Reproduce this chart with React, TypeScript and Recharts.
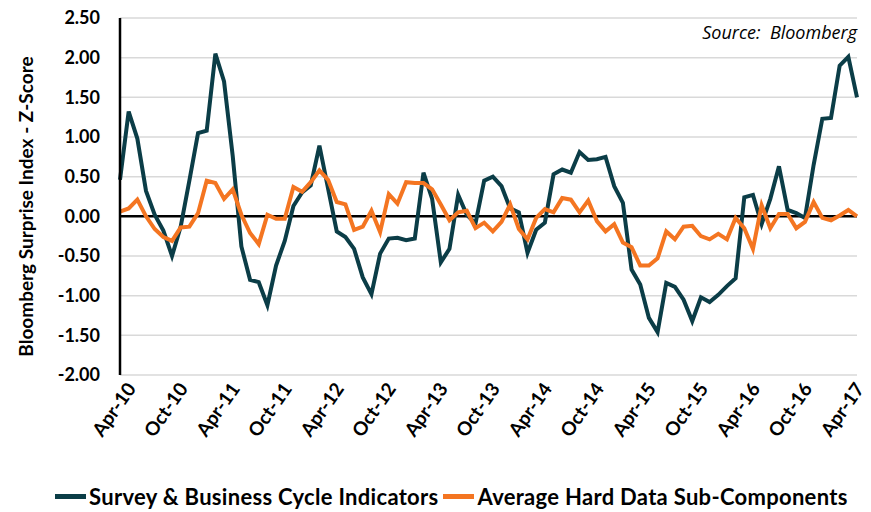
import React from 'react';
import { LineChart, Line, XAxis, YAxis, CartesianGrid, ReferenceLine, Label } from 'recharts';

const MONTH_NAMES = ['Jan', 'Feb', 'Mar', 'Apr', 'May', 'Jun', 'Jul', 'Aug', 'Sep', 'Oct', 'Nov', 'Dec'];

// monthly observations, Mar-10 .. Apr-17
const months: string[] = [];
for (let i = 0; i < 86; i++) {
  const m = (2 + i) % 12;
  const y = 10 + Math.floor((2 + i) / 12);
  months.push(`${MONTH_NAMES[m]}-${y}`);
}

const tickLabels = [
  'Apr-10', 'Oct-10', 'Apr-11', 'Oct-11', 'Apr-12', 'Oct-12', 'Apr-13', 'Oct-13',
  'Apr-14', 'Oct-14', 'Apr-15', 'Oct-15', 'Apr-16', 'Oct-16', 'Apr-17',
];

const yTicks = [-2, -1.5, -1, -0.5, 0, 0.5, 1, 1.5, 2, 2.5];

const surveyCycle = [
  0.46, 1.32, 0.98, 0.32, 0.02, -0.18, -0.5, -0.13, 0.45, 1.05,
  1.08, 2.05, 1.7, 0.76, -0.38, -0.8, -0.83, -1.12, -0.62, -0.31,
  0.13, 0.3, 0.39, 0.89, 0.35, -0.19, -0.26, -0.41, -0.77, -0.98,
  -0.47, -0.28, -0.27, -0.3, -0.28, 0.55, 0.22, -0.58, -0.41, 0.27,
  0.02, -0.09, 0.45, 0.5, 0.38, 0.1, 0.05, -0.46, -0.17, -0.08,
  0.53, 0.59, 0.55, 0.81, 0.71, 0.72, 0.75, 0.38, 0.17, -0.67,
  -0.86, -1.28, -1.46, -0.84, -0.89, -1.05, -1.32, -1.02, -1.08, -0.99,
  -0.88, -0.78, 0.24, 0.27, -0.1, 0.22, 0.63, 0.08, 0.04, -0.02,
  0.65, 1.23, 1.24, 1.9, 2.01, 1.5,
];

const hardData = [
  0.06, 0.1, 0.21, 0.0, -0.16, -0.26, -0.31, -0.14, -0.13, 0.04,
  0.45, 0.42, 0.22, 0.34, 0.02, -0.21, -0.35, 0.02, -0.03, -0.03,
  0.37, 0.31, 0.43, 0.58, 0.46, 0.18, 0.15, -0.17, -0.13, 0.07,
  -0.2, 0.28, 0.16, 0.43, 0.42, 0.42, 0.34, 0.15, -0.05, 0.05,
  0.07, -0.15, -0.08, -0.19, -0.07, 0.15, -0.16, -0.29, -0.02, 0.09,
  0.05, 0.23, 0.21, 0.05, 0.2, -0.06, -0.19, -0.1, -0.33, -0.39,
  -0.62, -0.62, -0.53, -0.19, -0.29, -0.13, -0.12, -0.25, -0.29, -0.22,
  -0.29, -0.02, -0.15, -0.41, 0.14, -0.15, 0.03, 0.03, -0.15, -0.07,
  0.18, -0.02, -0.05, 0.01, 0.08, 0.0,
];

const data = months.map((month, i) => ({
  month,
  survey: surveyCycle[i],
  hard: hardData[i],
}));

const DARK = '#0b3d47';
const ORANGE = '#f47521';

const App: React.FC = () => {
  return (
    <div style={{ position: 'absolute', left: 0, top: 0, width: 871, height: 512, fontFamily: 'Lato', background: '#fff' }}>
      <LineChart width={871} height={512} data={data} margin={{ top: 18, right: 14, left: 0, bottom: 0 }}>
        <CartesianGrid vertical={false} stroke="#d9d9d9" strokeWidth={1.5} />
        <XAxis
          dataKey="month"
          ticks={tickLabels}
          interval={0}
          height={137}
          axisLine={false}
          tickLine={false}
          tickSize={0}
          tickMargin={6}
          angle={-55}
          textAnchor="end"
          dx={-3}
          tick={{ fontSize: 19, fontWeight: 700, fill: '#000', fontFamily: 'Lato' }}
        />
        <YAxis
          width={120}
          domain={[-2, 2.5]}
          ticks={yTicks}
          interval={0}
          tickFormatter={(v: number) => v.toFixed(2)}
          axisLine={{ stroke: '#000', strokeWidth: 2.5 }}
          tickLine={false}
          tickSize={0}
          tickMargin={20}
          tick={{ fontSize: 18, fontWeight: 700, fill: '#000', fontFamily: 'Lato' }}
        >
          <Label
            value="Bloomberg Surprise Index - Z-Score"
            angle={-90}
            position="insideLeft"
            offset={26}
            dy={10}
            style={{ textAnchor: 'middle', fontSize: 19, fontWeight: 700, fill: '#000', fontFamily: 'Lato' }}
          />
        </YAxis>
        <ReferenceLine y={0} stroke="#000" strokeWidth={2.5} />
        <Line type="linear" dataKey="survey" stroke={DARK} strokeWidth={4} dot={false} isAnimationActive={false} />
        <Line type="linear" dataKey="hard" stroke={ORANGE} strokeWidth={4} dot={false} isAnimationActive={false} />
      </LineChart>

      <div style={{ position: 'absolute', right: 14, top: 20, fontFamily: 'Open Sans', fontStyle: 'italic', fontSize: 18, color: '#000', whiteSpace: 'pre' }}>
        {'Source:  Bloomberg'}
      </div>

      <div style={{ position: 'absolute', left: 55, top: 483, display: 'flex', alignItems: 'center', fontSize: 22, fontWeight: 700, letterSpacing: 0.3, color: '#000', whiteSpace: 'nowrap' }}>
        <span style={{ display: 'inline-block', width: 31, height: 5, background: DARK, marginRight: 3 }} />
        <span>Survey &amp; Business Cycle Indicators</span>
        <span style={{ display: 'inline-block', width: 31, height: 5, background: ORANGE, marginLeft: 5, marginRight: 3 }} />
        <span>Average Hard Data Sub-Components</span>
      </div>
    </div>
  );
};

export default App;
